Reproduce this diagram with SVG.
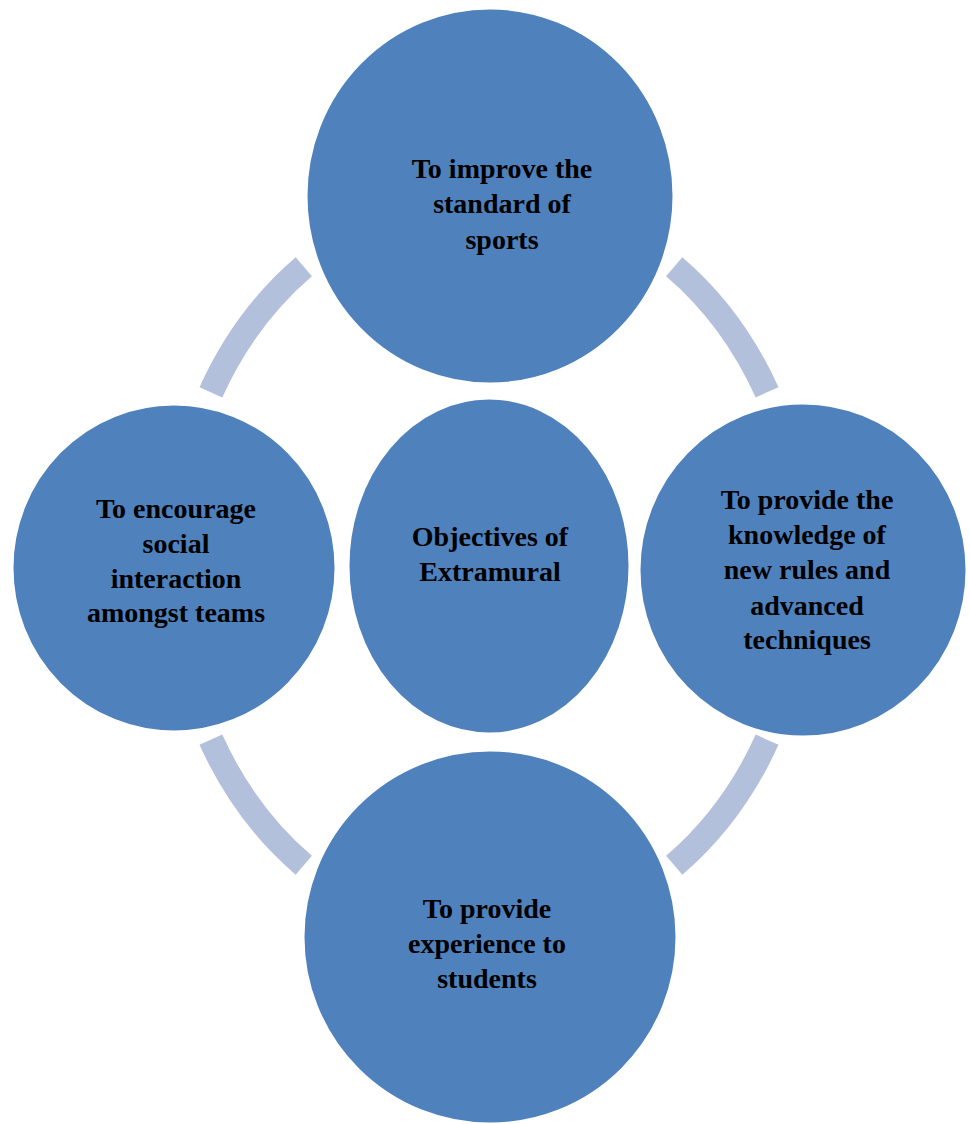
<svg xmlns="http://www.w3.org/2000/svg" width="970" height="1124" viewBox="0 0 970 1124">
<style>
.node{fill:#4f81bd;stroke:#ffffff;stroke-width:3}
.ring{fill:none;stroke:#b3c0dc;stroke-width:25;stroke-linecap:butt}
.lbl{font-family:"Liberation Serif","Times New Roman",serif;font-weight:bold;font-size:28px;fill:#000;text-anchor:middle}
</style>
<rect width="970" height="1124" fill="#ffffff"/>
<g id="connectors">
<path class="ring" d="M 210.9 392.3 A 315 370 0 0 1 303.8 266.7"/>
<path class="ring" d="M 674.2 266.7 A 315 370 0 0 1 767.1 392.3"/>
<path class="ring" d="M 767.1 739.7 A 315 370 0 0 1 674.2 865.3"/>
<path class="ring" d="M 303.8 865.3 A 315 370 0 0 1 210.9 739.7"/>
</g>
<g id="center">
<ellipse class="node" cx="489" cy="566" rx="141" ry="168"/>
<text class="lbl" x="490" y="546">Objectives of</text>
<text class="lbl" x="490" y="581">Extramural</text>
</g>
<g id="top">
<ellipse class="node" cx="490" cy="196" rx="184" ry="188"/>
<text class="lbl" x="502" y="178">To improve the</text>
<text class="lbl" x="502" y="213">standard of</text>
<text class="lbl" x="502" y="249">sports</text>
</g>
<g id="right">
<ellipse class="node" cx="803" cy="570" rx="164" ry="167"/>
<text class="lbl" x="807" y="509">To provide the</text>
<text class="lbl" x="807" y="544">knowledge of</text>
<text class="lbl" x="807" y="579">new rules and</text>
<text class="lbl" x="807" y="615">advanced</text>
<text class="lbl" x="807" y="649">techniques</text>
</g>
<g id="bottom">
<ellipse class="node" cx="490" cy="937" rx="187" ry="187"/>
<text class="lbl" x="487" y="918">To provide</text>
<text class="lbl" x="487" y="953">experience to</text>
<text class="lbl" x="487" y="988">students</text>
</g>
<g id="left">
<ellipse class="node" cx="174" cy="568" rx="162" ry="164"/>
<text class="lbl" x="176" y="518">To encourage</text>
<text class="lbl" x="176" y="553">social</text>
<text class="lbl" x="176" y="588">interaction</text>
<text class="lbl" x="176" y="622">amongst teams</text>
</g>
</svg>
